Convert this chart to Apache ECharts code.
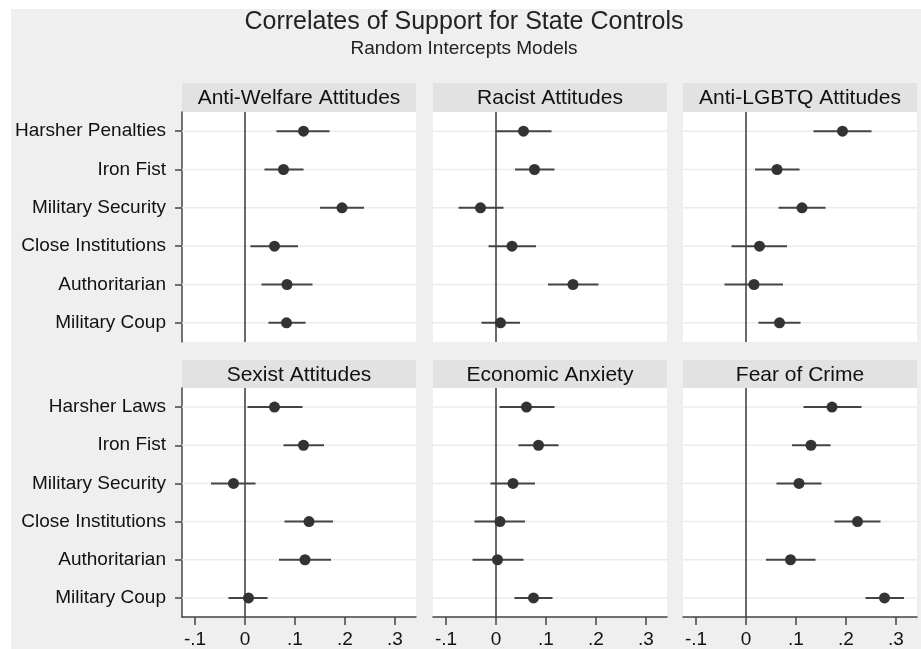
<!DOCTYPE html>
<html>
<head>
<meta charset="utf-8">
<style>
  html, body { margin: 0; padding: 0; background: #ffffff; }
  #chart { width: 921px; height: 649px; }
</style>
<script src="https://cdn.jsdelivr.net/npm/echarts@6/dist/echarts.min.js"></script>
</head>
<body>
<div id="chart"></div>
<script>
// Outcome items (rows), top to bottom
const topItems = ['Harsher Penalties', 'Iron Fist', 'Military Security', 'Close Institutions', 'Authoritarian', 'Military Coup'];
const bottomItems = ['Harsher Laws', 'Iron Fist', 'Military Security', 'Close Institutions', 'Authoritarian', 'Military Coup'];

// Panel titles (predictors)
const panelTitles = ['Anti-Welfare Attitudes', 'Racist Attitudes', 'Anti-LGBTQ Attitudes',
                     'Sexist Attitudes', 'Economic Anxiety', 'Fear of Crime'];

// Coefficient estimates, one array per panel, in row order
const antiWelfareEst = [0.117, 0.077, 0.194, 0.059, 0.084, 0.083];
const racistEst      = [0.055, 0.077, -0.031, 0.032, 0.154, 0.009];
const antiLgbtqEst   = [0.193, 0.062, 0.112, 0.027, 0.016, 0.067];
const sexistEst      = [0.059, 0.117, -0.023, 0.128, 0.120, 0.007];
const econAnxEst     = [0.061, 0.085, 0.034, 0.008, 0.003, 0.075];
const fearCrimeEst   = [0.172, 0.130, 0.106, 0.223, 0.089, 0.277];

// 95% confidence interval bounds
const antiWelfareLo = [0.063, 0.039, 0.150, 0.011, 0.033, 0.047];
const antiWelfareHi = [0.169, 0.117, 0.238, 0.106, 0.135, 0.121];
const racistLo      = [0.000, 0.038, -0.075, -0.015, 0.104, -0.029];
const racistHi      = [0.111, 0.117, 0.015, 0.080, 0.205, 0.048];
const antiLgbtqLo   = [0.135, 0.018, 0.065, -0.029, -0.043, 0.025];
const antiLgbtqHi   = [0.251, 0.107, 0.159, 0.082, 0.074, 0.109];
const sexistLo      = [0.005, 0.077, -0.068, 0.079, 0.068, -0.033];
const sexistHi      = [0.115, 0.158, 0.021, 0.176, 0.172, 0.045];
const econAnxLo     = [0.007, 0.045, -0.011, -0.043, -0.047, 0.037];
const econAnxHi     = [0.117, 0.125, 0.078, 0.058, 0.055, 0.113];
const fearCrimeLo   = [0.115, 0.092, 0.061, 0.177, 0.040, 0.239];
const fearCrimeHi   = [0.231, 0.169, 0.151, 0.269, 0.139, 0.316];

// X axis ticks
const xTickValues = [-0.1, 0, 0.1, 0.2, 0.3];
const xTickLabels = ['-.1', '0', '.1', '.2', '.3'];
const xMin = -0.126, xMax = 0.342;

const panels = [
  { est: antiWelfareEst, lo: antiWelfareLo, hi: antiWelfareHi },
  { est: racistEst,      lo: racistLo,      hi: racistHi },
  { est: antiLgbtqEst,   lo: antiLgbtqLo,   hi: antiLgbtqHi },
  { est: sexistEst,      lo: sexistLo,      hi: sexistHi },
  { est: econAnxEst,     lo: econAnxLo,     hi: econAnxHi },
  { est: fearCrimeEst,   lo: fearCrimeLo,   hi: fearCrimeHi }
];

// Layout
const FONT = '"Liberation Sans", Arial, Helvetica, sans-serif';
const colLeft = [182, 433, 683];
const panelW = 234;
const rowPlotTop = [112, 388];
const rowStripTop = [83, 360];
const plotH = 230;
const ink = '#444444';

const grids = [], xAxes = [], yAxes = [], series = [], graphics = [];

graphics.push({
  type: 'rect', z: -100,
  shape: { x: 11, y: 9, width: 910, height: 640 },
  style: { fill: '#efefef' }
});
graphics.push({
  type: 'text', x: 464, y: 22,
  style: { text: 'Correlates of Support for State Controls', font: '25px ' + FONT,
           fill: '#222', textAlign: 'center', textVerticalAlign: 'middle' }
});
graphics.push({
  type: 'text', x: 464, y: 49,
  style: { text: 'Random Intercepts Models', font: '19px ' + FONT,
           fill: '#222', textAlign: 'center', textVerticalAlign: 'middle' }
});

panels.forEach((p, i) => {
  const row = Math.floor(i / 3), col = i % 3;
  const left = colLeft[col], top = rowPlotTop[row];
  const cats = row === 0 ? topItems : bottomItems;
  const isLeft = col === 0, isBottom = row === 1;

  grids.push({ left: left, top: top, width: panelW, height: plotH, show: true,
               backgroundColor: '#ffffff', borderWidth: 0, containLabel: false });

  // Panel strip
  graphics.push({
    type: 'rect', z: -50,
    shape: { x: left, y: rowStripTop[row], width: panelW, height: top - rowStripTop[row] },
    style: { fill: '#e2e2e2' }
  });
  graphics.push({
    type: 'text', x: left + panelW / 2, y: (rowStripTop[row] + top) / 2 + 1,
    style: { text: panelTitles[i], font: '21px ' + FONT, fill: '#111',
             textAlign: 'center', textVerticalAlign: 'middle' }
  });

  xAxes.push({
    gridIndex: i, type: 'value', min: xMin, max: xMax,
    show: isBottom,
    splitLine: { show: false },
    axisLine: { show: true, onZero: false, lineStyle: { color: ink, width: 1.5 } },
    axisTick: { show: true, length: 8, customValues: xTickValues, lineStyle: { color: ink, width: 1.5 } },
    axisLabel: {
      show: true, customValues: xTickValues, margin: 13,
      fontSize: 19, fontFamily: FONT, color: '#111',
      formatter: v => xTickLabels[xTickValues.findIndex(t => Math.abs(t - v) < 1e-9)] ?? ''
    }
  });

  yAxes.push({
    gridIndex: i, type: 'category', data: cats, inverse: true,
    show: isLeft,
    splitLine: { show: false },
    axisLine: { show: true, onZero: false, lineStyle: { color: ink, width: 1.5 } },
    axisTick: { show: true, alignWithLabel: true, length: 7, lineStyle: { color: ink, width: 1.5 } },
    axisLabel: { show: true, margin: 16, fontSize: 19, fontFamily: FONT, color: '#111' }
  });

  const rows = p.est.map((e, k) => [p.lo[k], p.hi[k], k]);

  // Light guide line at each row; the first item also draws the zero reference line
  series.push({
    type: 'custom', xAxisIndex: i, yAxisIndex: i, z: 1, silent: true,
    data: rows,
    encode: { x: [0, 1], y: 2 },
    renderItem: (params, api) => {
      const cs = params.coordSys;
      const y = api.coord([0, api.value(2)])[1];
      const children = [{
        type: 'line', shape: { x1: cs.x, y1: y, x2: cs.x + cs.width, y2: y },
        style: { stroke: '#ebebeb', lineWidth: 1.5 }
      }];
      if (params.dataIndex === 0) {
        const x0 = api.coord([0, 0])[0];
        children.push({
          type: 'line', z2: 5,
          shape: { x1: x0, y1: cs.y, x2: x0, y2: cs.y + cs.height },
          style: { stroke: ink, lineWidth: 1.6 }
        });
      }
      return { type: 'group', children: children };
    }
  });

  // Confidence intervals
  series.push({
    type: 'custom', xAxisIndex: i, yAxisIndex: i, z: 3, silent: true,
    data: rows,
    encode: { x: [0, 1], y: 2 },
    renderItem: (params, api) => {
      const a = api.coord([api.value(0), api.value(2)]);
      const b = api.coord([api.value(1), api.value(2)]);
      return { type: 'line', shape: { x1: a[0], y1: a[1], x2: b[0], y2: b[1] },
               style: { stroke: ink, lineWidth: 2 } };
    }
  });

  // Point estimates
  series.push({
    type: 'scatter', xAxisIndex: i, yAxisIndex: i, z: 4, silent: true,
    symbol: 'circle', symbolSize: 11,
    itemStyle: { color: '#333333', opacity: 1 },
    data: p.est.map((e, k) => [e, k])
  });
});

const chart = echarts.init(document.getElementById('chart'), null, { renderer: 'canvas' });
chart.setOption({
  backgroundColor: '#ffffff',
  animation: false,
  grid: grids, xAxis: xAxes, yAxis: yAxes, series: series,
  graphic: { elements: graphics }
});
</script>
</body>
</html>
